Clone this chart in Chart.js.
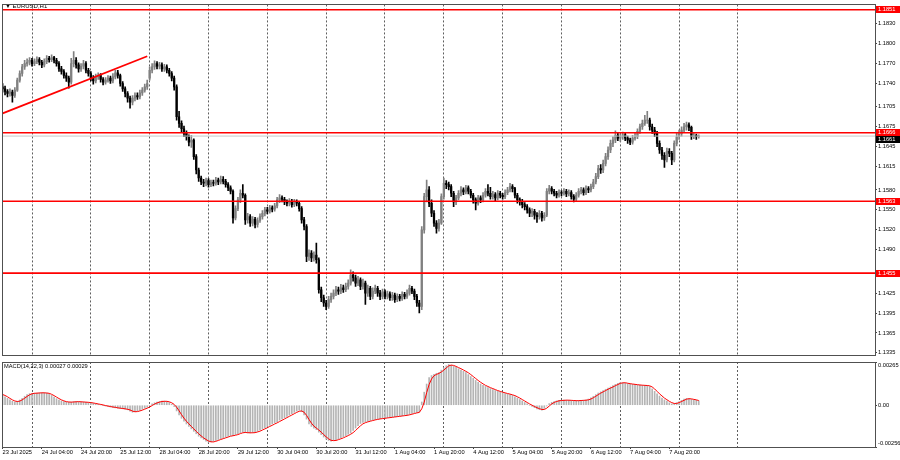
<!DOCTYPE html>
<html>
<head>
<meta charset="utf-8">
<script src="https://cdn.jsdelivr.net/npm/chart.js@4.4.1/dist/chart.umd.min.js"></script>
<style>
  html, body { margin: 0; padding: 0; background: #fff; }
  #wrap { position: relative; width: 900px; height: 460px; overflow: hidden; }
  canvas { position: absolute; left: 0; }
  #price { top: 0; }
  #macd { top: 356px; }
</style>
</head>
<body>
<div id="wrap">
  <canvas id="price" width="900" height="360"></canvas>
  <canvas id="macd" width="900" height="104"></canvas>
</div>
<script>
// EURUSD H1, one entry per hourly bar, 23 Jul 12:00 .. 8 Aug 08:00
const opens = [
  1.1735,1.1732,1.1728,1.1725,1.1727,1.1722,1.1730,1.1745,1.1755,1.1765,
  1.1770,1.1772,1.1775,1.1770,1.1773,1.1776,1.1772,1.1768,1.1773,1.1778,
  1.1776,1.1779,1.1775,1.1770,1.1762,1.1758,1.1752,1.1748,1.1742,1.1770,
  1.1775,1.1768,1.1762,1.1766,1.1770,1.1760,1.1755,1.1748,1.1744,1.1750,
  1.1752,1.1746,1.1742,1.1745,1.1748,1.1744,1.1750,1.1756,1.1752,1.1740,
  1.1732,1.1725,1.1718,1.1712,1.1718,1.1722,1.1720,1.1726,1.1730,1.1735,
  1.1748,1.1760,1.1765,1.1770,1.1766,1.1768,1.1762,1.1765,1.1760,1.1755,
  1.1748,1.1735,1.1690,1.1680,1.1672,1.1665,1.1660,1.1652,1.1655,1.1630,
  1.1610,1.1598,1.1592,1.1590,1.1594,1.1588,1.1591,1.1590,1.1595,1.1592,
  1.1596,1.1593,1.1588,1.1583,1.1578,1.1538,1.1552,1.1565,1.1575,1.1572,
  1.1535,1.1540,1.1530,1.1536,1.1528,1.1534,1.1540,1.1545,1.1550,1.1548,
  1.1553,1.1551,1.1556,1.1565,1.1568,1.1566,1.1562,1.1560,1.1563,1.1558,
  1.1562,1.1560,1.1552,1.1535,1.1525,1.1480,1.1485,1.1478,1.1482,1.1475,
  1.1430,1.1418,1.1410,1.1405,1.1415,1.1420,1.1425,1.1430,1.1428,1.1433,
  1.1430,1.1435,1.1440,1.1452,1.1448,1.1440,1.1445,1.1435,1.1440,1.1425,
  1.1432,1.1420,1.1428,1.1432,1.1425,1.1420,1.1427,1.1420,1.1424,1.1418,
  1.1422,1.1415,1.1420,1.1417,1.1423,1.1420,1.1425,1.1432,1.1428,1.1420,
  1.1410,1.1405,1.1520,1.1570,1.1580,1.1560,1.1545,1.1530,1.1522,1.1530,
  1.1570,1.1590,1.1588,1.1585,1.1575,1.1562,1.1568,1.1575,1.1580,1.1577,
  1.1583,1.1578,1.1572,1.1565,1.1560,1.1568,1.1565,1.1572,1.1578,1.1575,
  1.1570,1.1573,1.1568,1.1575,1.1572,1.1570,1.1576,1.1580,1.1585,1.1582,
  1.1572,1.1565,1.1562,1.1558,1.1555,1.1550,1.1545,1.1548,1.1542,1.1540,
  1.1545,1.1538,1.1542,1.1578,1.1582,1.1578,1.1575,1.1572,1.1576,1.1575,
  1.1578,1.1574,1.1576,1.1570,1.1566,1.1572,1.1578,1.1580,1.1576,1.1582,
  1.1580,1.1585,1.1592,1.1600,1.1612,1.1610,1.1620,1.1630,1.1640,1.1650,
  1.1655,1.1662,1.1658,1.1660,1.1663,1.1658,1.1655,1.1652,1.1658,1.1660,
  1.1668,1.1675,1.1680,1.1685,1.1685,1.1675,1.1670,1.1665,1.1650,1.1640,
  1.1632,1.1625,1.1638,1.1635,1.1625,1.1650,1.1660,1.1665,1.1670,1.1675,
  1.1678,1.1674,1.1660,1.1662,1.1660
];
const highs = [
  1.1740,1.1736,1.1731,1.1732,1.1730,1.1734,1.1748,1.1759,1.1769,1.1775,
  1.1777,1.1779,1.1778,1.1777,1.1780,1.1779,1.1775,1.1777,1.1782,1.1781,
  1.1783,1.1781,1.1778,1.1773,1.1766,1.1761,1.1756,1.1751,1.1778,1.1788,
  1.1779,1.1771,1.1770,1.1775,1.1773,1.1763,1.1758,1.1752,1.1754,1.1756,
  1.1755,1.1749,1.1749,1.1752,1.1751,1.1755,1.1760,1.1760,1.1754,1.1743,
  1.1735,1.1728,1.1721,1.1722,1.1726,1.1726,1.1730,1.1734,1.1739,1.1745,
  1.1765,1.1770,1.1774,1.1773,1.1772,1.1771,1.1769,1.1768,1.1763,1.1758,
  1.1751,1.1738,1.1698,1.1684,1.1676,1.1669,1.1663,1.1662,1.1657,1.1633,
  1.1613,1.1601,1.1596,1.1598,1.1597,1.1595,1.1595,1.1599,1.1598,1.1601,
  1.1600,1.1596,1.1591,1.1586,1.1580,1.1556,1.1569,1.1580,1.1588,1.1574,
  1.1545,1.1543,1.1540,1.1539,1.1538,1.1544,1.1549,1.1554,1.1554,1.1557,
  1.1556,1.1560,1.1569,1.1573,1.1571,1.1569,1.1565,1.1567,1.1566,1.1566,
  1.1565,1.1563,1.1555,1.1539,1.1528,1.1490,1.1489,1.1487,1.1500,1.1478,
  1.1434,1.1422,1.1414,1.1420,1.1425,1.1430,1.1435,1.1434,1.1438,1.1437,
  1.1440,1.1445,1.1460,1.1457,1.1452,1.1450,1.1448,1.1446,1.1443,1.1437,
  1.1435,1.1433,1.1437,1.1435,1.1429,1.1431,1.1430,1.1428,1.1427,1.1426,
  1.1425,1.1424,1.1423,1.1427,1.1426,1.1430,1.1437,1.1435,1.1431,1.1423,
  1.1414,1.1525,1.1575,1.1595,1.1585,1.1565,1.1549,1.1534,1.1536,1.1574,
  1.1598,1.1594,1.1592,1.1588,1.1578,1.1572,1.1579,1.1585,1.1583,1.1587,
  1.1586,1.1581,1.1575,1.1568,1.1572,1.1571,1.1576,1.1582,1.1588,1.1584,
  1.1578,1.1576,1.1579,1.1578,1.1575,1.1580,1.1584,1.1590,1.1588,1.1584,
  1.1575,1.1568,1.1566,1.1561,1.1558,1.1553,1.1552,1.1551,1.1546,1.1549,
  1.1548,1.1546,1.1582,1.1587,1.1585,1.1581,1.1578,1.1580,1.1579,1.1582,
  1.1581,1.1580,1.1579,1.1573,1.1576,1.1582,1.1584,1.1583,1.1586,1.1585,
  1.1589,1.1596,1.1605,1.1617,1.1618,1.1625,1.1635,1.1645,1.1655,1.1660,
  1.1669,1.1665,1.1664,1.1667,1.1666,1.1661,1.1658,1.1662,1.1665,1.1672,
  1.1679,1.1685,1.1692,1.1698,1.1688,1.1679,1.1674,1.1668,1.1654,1.1644,
  1.1636,1.1643,1.1642,1.1638,1.1654,1.1665,1.1670,1.1675,1.1680,1.1682,
  1.1681,1.1676,1.1665,1.1664,1.1663
];
const lows = [
  1.1727,1.1723,1.1720,1.1721,1.1712,1.1719,1.1728,1.1742,1.1751,1.1761,
  1.1766,1.1768,1.1766,1.1767,1.1770,1.1768,1.1764,1.1765,1.1770,1.1772,
  1.1773,1.1771,1.1766,1.1758,1.1754,1.1748,1.1743,1.1733,1.1739,1.1765,
  1.1763,1.1757,1.1758,1.1762,1.1756,1.1751,1.1744,1.1739,1.1741,1.1746,
  1.1742,1.1738,1.1739,1.1742,1.1740,1.1741,1.1747,1.1748,1.1736,1.1728,
  1.1720,1.1712,1.1703,1.1708,1.1714,1.1716,1.1717,1.1722,1.1727,1.1731,
  1.1745,1.1756,1.1761,1.1762,1.1762,1.1758,1.1758,1.1756,1.1751,1.1744,
  1.1730,1.1685,1.1674,1.1666,1.1660,1.1655,1.1646,1.1644,1.1626,1.1604,
  1.1593,1.1588,1.1585,1.1586,1.1584,1.1585,1.1586,1.1587,1.1588,1.1589,
  1.1589,1.1584,1.1579,1.1574,1.1530,1.1535,1.1549,1.1561,1.1568,1.1528,
  1.1530,1.1525,1.1526,1.1523,1.1524,1.1531,1.1536,1.1541,1.1544,1.1545,
  1.1547,1.1548,1.1553,1.1561,1.1562,1.1558,1.1556,1.1556,1.1554,1.1555,
  1.1556,1.1548,1.1530,1.1520,1.1472,1.1474,1.1472,1.1473,1.1470,1.1425,
  1.1412,1.1405,1.1400,1.1402,1.1411,1.1416,1.1421,1.1423,1.1424,1.1426,
  1.1427,1.1431,1.1437,1.1443,1.1435,1.1436,1.1430,1.1431,1.1408,1.1420,
  1.1415,1.1416,1.1424,1.1420,1.1415,1.1416,1.1416,1.1416,1.1414,1.1414,
  1.1411,1.1412,1.1413,1.1414,1.1416,1.1417,1.1422,1.1424,1.1415,1.1405,
  1.1395,1.1400,1.1515,1.1562,1.1555,1.1540,1.1525,1.1515,1.1518,1.1528,
  1.1566,1.1582,1.1580,1.1570,1.1555,1.1558,1.1565,1.1571,1.1573,1.1574,
  1.1574,1.1568,1.1560,1.1550,1.1557,1.1561,1.1562,1.1569,1.1571,1.1566,
  1.1566,1.1564,1.1565,1.1568,1.1566,1.1567,1.1573,1.1577,1.1577,1.1568,
  1.1560,1.1557,1.1553,1.1550,1.1545,1.1540,1.1540,1.1536,1.1531,1.1536,
  1.1533,1.1534,1.1540,1.1574,1.1574,1.1571,1.1568,1.1569,1.1571,1.1572,
  1.1570,1.1571,1.1566,1.1562,1.1563,1.1569,1.1574,1.1572,1.1573,1.1576,
  1.1577,1.1582,1.1589,1.1597,1.1605,1.1606,1.1616,1.1626,1.1636,1.1645,
  1.1651,1.1654,1.1653,1.1656,1.1654,1.1650,1.1648,1.1649,1.1655,1.1657,
  1.1665,1.1671,1.1677,1.1680,1.1670,1.1665,1.1660,1.1645,1.1635,1.1626,
  1.1614,1.1622,1.1630,1.1618,1.1622,1.1646,1.1656,1.1661,1.1666,1.1670,
  1.1669,1.1656,1.1657,1.1656,1.1658
];
const closes = [
  1.1732,1.1728,1.1725,1.1727,1.1722,1.1730,1.1745,1.1755,1.1765,1.1770,
  1.1772,1.1775,1.1770,1.1773,1.1776,1.1772,1.1768,1.1773,1.1778,1.1776,
  1.1779,1.1775,1.1770,1.1762,1.1758,1.1752,1.1748,1.1742,1.1770,1.1775,
  1.1768,1.1762,1.1766,1.1770,1.1760,1.1755,1.1748,1.1744,1.1750,1.1752,
  1.1746,1.1742,1.1745,1.1748,1.1744,1.1750,1.1756,1.1752,1.1740,1.1732,
  1.1725,1.1718,1.1712,1.1718,1.1722,1.1720,1.1726,1.1730,1.1735,1.1740,
  1.1760,1.1765,1.1770,1.1766,1.1768,1.1762,1.1765,1.1760,1.1755,1.1748,
  1.1735,1.1690,1.1680,1.1672,1.1665,1.1660,1.1652,1.1655,1.1630,1.1610,
  1.1598,1.1592,1.1590,1.1594,1.1588,1.1591,1.1590,1.1595,1.1592,1.1596,
  1.1593,1.1588,1.1583,1.1578,1.1538,1.1552,1.1565,1.1575,1.1572,1.1535,
  1.1540,1.1530,1.1536,1.1528,1.1534,1.1540,1.1545,1.1550,1.1548,1.1553,
  1.1551,1.1556,1.1565,1.1568,1.1566,1.1562,1.1560,1.1563,1.1558,1.1562,
  1.1560,1.1552,1.1535,1.1525,1.1480,1.1485,1.1478,1.1482,1.1475,1.1430,
  1.1418,1.1410,1.1405,1.1415,1.1420,1.1425,1.1430,1.1428,1.1433,1.1430,
  1.1435,1.1440,1.1452,1.1448,1.1440,1.1445,1.1435,1.1440,1.1425,1.1432,
  1.1420,1.1428,1.1432,1.1425,1.1420,1.1427,1.1420,1.1424,1.1418,1.1422,
  1.1415,1.1420,1.1417,1.1423,1.1420,1.1425,1.1432,1.1428,1.1420,1.1410,
  1.1405,1.1520,1.1570,1.1580,1.1560,1.1545,1.1530,1.1522,1.1530,1.1570,
  1.1590,1.1588,1.1585,1.1575,1.1562,1.1568,1.1575,1.1580,1.1577,1.1583,
  1.1578,1.1572,1.1565,1.1560,1.1568,1.1565,1.1572,1.1578,1.1575,1.1570,
  1.1573,1.1568,1.1575,1.1572,1.1570,1.1576,1.1580,1.1585,1.1582,1.1572,
  1.1565,1.1562,1.1558,1.1555,1.1550,1.1545,1.1548,1.1542,1.1540,1.1545,
  1.1538,1.1542,1.1578,1.1582,1.1578,1.1575,1.1572,1.1576,1.1575,1.1578,
  1.1574,1.1576,1.1570,1.1566,1.1572,1.1578,1.1580,1.1576,1.1582,1.1580,
  1.1585,1.1592,1.1600,1.1612,1.1610,1.1620,1.1630,1.1640,1.1650,1.1655,
  1.1662,1.1658,1.1660,1.1663,1.1658,1.1655,1.1652,1.1658,1.1660,1.1668,
  1.1675,1.1680,1.1685,1.1685,1.1675,1.1670,1.1665,1.1650,1.1640,1.1632,
  1.1625,1.1638,1.1635,1.1625,1.1650,1.1660,1.1665,1.1670,1.1675,1.1678,
  1.1674,1.1660,1.1662,1.1660,1.1661
];

// MACD(14,22,3): main line (histogram) and signal (red line)
const macdMain = [
  0.00061,0.00052,0.00042,0.00033,0.00024,0.00020,0.00024,0.00032,0.00042,0.00055,
  0.00066,0.00071,0.00073,0.00074,0.00075,0.00076,0.00076,0.00076,0.00074,0.00068,
  0.00060,0.00050,0.00040,0.00032,0.00026,0.00022,0.00019,0.00018,0.00019,0.00022,
  0.00022,0.00021,0.00020,0.00020,0.00018,0.00016,0.00014,0.00011,0.00008,0.00005,
  0.00002,-0.00002,-0.00005,-0.00008,-0.00011,-0.00013,-0.00016,-0.00018,-0.00020,-0.00022,
  -0.00024,-0.00028,-0.00036,-0.00043,-0.00040,-0.00035,-0.00030,-0.00024,-0.00018,-0.00012,
  -0.00002,0.00008,0.00015,0.00020,0.00023,0.00025,0.00025,0.00022,0.00016,0.00006,
  -0.00008,-0.00035,-0.00060,-0.00080,-0.00098,-0.00115,-0.00130,-0.00145,-0.00160,-0.00175,
  -0.00190,-0.00200,-0.00210,-0.00220,-0.00227,-0.00225,-0.00222,-0.00216,-0.00210,-0.00205,
  -0.00200,-0.00195,-0.00190,-0.00186,-0.00185,-0.00180,-0.00174,-0.00168,-0.00165,-0.00168,
  -0.00170,-0.00170,-0.00168,-0.00165,-0.00160,-0.00152,-0.00145,-0.00138,-0.00130,-0.00123,
  -0.00115,-0.00108,-0.00100,-0.00092,-0.00084,-0.00076,-0.00068,-0.00060,-0.00052,-0.00044,
  -0.00036,-0.00030,-0.00040,-0.00060,-0.00085,-0.00115,-0.00130,-0.00140,-0.00150,-0.00165,
  -0.00180,-0.00195,-0.00208,-0.00216,-0.00220,-0.00216,-0.00211,-0.00206,-0.00200,-0.00193,
  -0.00186,-0.00178,-0.00170,-0.00155,-0.00140,-0.00125,-0.00112,-0.00106,-0.00102,-0.00098,
  -0.00094,-0.00090,-0.00087,-0.00084,-0.00082,-0.00080,-0.00078,-0.00076,-0.00074,-0.00072,
  -0.00070,-0.00068,-0.00066,-0.00064,-0.00062,-0.00060,-0.00056,-0.00050,-0.00046,-0.00044,
  -0.00042,0.00020,0.00080,0.00130,0.00170,0.00182,0.00190,0.00196,0.00200,0.00215,
  0.00230,0.00242,0.00250,0.00245,0.00238,0.00232,0.00224,0.00215,0.00208,0.00200,
  0.00188,0.00176,0.00165,0.00152,0.00140,0.00130,0.00122,0.00115,0.00108,0.00102,
  0.00096,0.00090,0.00085,0.00080,0.00076,0.00072,0.00068,0.00064,0.00060,0.00052,
  0.00044,0.00035,0.00026,0.00017,0.00008,0.00000,-0.00008,-0.00015,-0.00022,-0.00027,
  -0.00030,-0.00020,-0.00005,0.00010,0.00018,0.00023,0.00027,0.00030,0.00030,0.00031,
  0.00031,0.00030,0.00029,0.00028,0.00028,0.00029,0.00030,0.00030,0.00032,0.00038,
  0.00045,0.00055,0.00065,0.00075,0.00082,0.00090,0.00098,0.00105,0.00112,0.00120,
  0.00128,0.00134,0.00140,0.00138,0.00135,0.00132,0.00130,0.00128,0.00126,0.00124,
  0.00123,0.00122,0.00122,0.00120,0.00115,0.00100,0.00085,0.00070,0.00056,0.00044,
  0.00033,0.00025,0.00015,0.00008,0.00010,0.00016,0.00022,0.00030,0.00038,0.00042,
  0.00040,0.00036,0.00032,0.00030,0.00027
];
const macdSignal = [
  0.00066,0.00060,0.00052,0.00042,0.00033,0.00026,0.00023,0.00025,0.00033,0.00043,
  0.00054,0.00064,0.00070,0.00073,0.00074,0.00075,0.00076,0.00076,0.00075,0.00073,
  0.00067,0.00059,0.00050,0.00041,0.00033,0.00027,0.00022,0.00020,0.00019,0.00020,
  0.00021,0.00022,0.00021,0.00020,0.00019,0.00018,0.00016,0.00014,0.00011,0.00008,
  0.00005,0.00002,-0.00002,-0.00005,-0.00008,-0.00011,-0.00013,-0.00016,-0.00018,-0.00020,
  -0.00022,-0.00025,-0.00029,-0.00036,-0.00040,-0.00039,-0.00035,-0.00030,-0.00024,-0.00018,
  -0.00011,-0.00002,0.00007,0.00014,0.00019,0.00023,0.00024,0.00024,0.00021,0.00015,
  0.00005,-0.00012,-0.00034,-0.00058,-0.00079,-0.00098,-0.00114,-0.00130,-0.00145,-0.00160,
  -0.00175,-0.00188,-0.00200,-0.00210,-0.00219,-0.00224,-0.00225,-0.00221,-0.00216,-0.00210,
  -0.00205,-0.00200,-0.00195,-0.00190,-0.00187,-0.00184,-0.00180,-0.00174,-0.00169,-0.00167,
  -0.00168,-0.00169,-0.00169,-0.00168,-0.00164,-0.00159,-0.00152,-0.00145,-0.00138,-0.00130,
  -0.00123,-0.00115,-0.00108,-0.00100,-0.00092,-0.00084,-0.00076,-0.00068,-0.00060,-0.00052,
  -0.00044,-0.00037,-0.00035,-0.00043,-0.00062,-0.00087,-0.00110,-0.00128,-0.00140,-0.00152,
  -0.00165,-0.00180,-0.00194,-0.00206,-0.00215,-0.00217,-0.00216,-0.00211,-0.00206,-0.00200,
  -0.00193,-0.00186,-0.00178,-0.00168,-0.00155,-0.00140,-0.00126,-0.00114,-0.00107,-0.00102,
  -0.00098,-0.00094,-0.00090,-0.00087,-0.00084,-0.00082,-0.00080,-0.00078,-0.00076,-0.00074,
  -0.00072,-0.00070,-0.00068,-0.00066,-0.00064,-0.00062,-0.00059,-0.00055,-0.00051,-0.00047,
  -0.00044,-0.00022,0.00019,0.00077,0.00127,0.00161,0.00181,0.00189,0.00195,0.00204,
  0.00215,0.00229,0.00241,0.00246,0.00244,0.00238,0.00231,0.00224,0.00216,0.00208,
  0.00199,0.00188,0.00176,0.00164,0.00152,0.00141,0.00131,0.00122,0.00115,0.00108,
  0.00102,0.00096,0.00090,0.00085,0.00080,0.00076,0.00072,0.00068,0.00064,0.00059,
  0.00052,0.00044,0.00035,0.00026,0.00017,0.00008,0.00000,-0.00008,-0.00015,-0.00021,
  -0.00026,-0.00026,-0.00018,-0.00005,0.00008,0.00017,0.00023,0.00027,0.00029,0.00030,
  0.00031,0.00031,0.00030,0.00029,0.00028,0.00028,0.00029,0.00030,0.00031,0.00033,
  0.00038,0.00046,0.00055,0.00065,0.00074,0.00082,0.00090,0.00098,0.00105,0.00112,
  0.00120,0.00127,0.00134,0.00137,0.00138,0.00135,0.00132,0.00130,0.00128,0.00126,
  0.00124,0.00123,0.00122,0.00121,0.00119,0.00112,0.00100,0.00085,0.00070,0.00057,
  0.00044,0.00034,0.00024,0.00016,0.00011,0.00011,0.00016,0.00023,0.00030,0.00037,
  0.00040,0.00039,0.00036,0.00033,0.00029
];

const symbolTitle = '\u25BC EURUSD,H1';
const macdTitle = 'MACD(14,22,3) 0.00027 0.00029';
const timeLabels = ['23 Jul 2025', '24 Jul 04:00', '24 Jul 20:00', '25 Jul 12:00', '28 Jul 04:00',
  '28 Jul 20:00', '29 Jul 12:00', '30 Jul 04:00', '30 Jul 20:00', '31 Jul 12:00', '1 Aug 04:00',
  '1 Aug 20:00', '4 Aug 12:00', '5 Aug 04:00', '5 Aug 20:00', '6 Aug 12:00', '7 Aug 04:00', '7 Aug 20:00'];
const labelBars = [0, 16, 32, 48, 64, 80, 96, 112, 128, 144, 160, 176, 192, 208, 224, 240, 256, 272];
const dayStartBars = [12, 36, 60, 84, 108, 132, 156, 180, 204, 228, 252, 276, 300];
const priceTicks = [1.1830, 1.1800, 1.1770, 1.1740, 1.1705, 1.1675, 1.1645, 1.1615, 1.1580,
  1.1550, 1.1520, 1.1490, 1.1425, 1.1395, 1.1365, 1.1335];
const levels = [1.1851, 1.1666, 1.1563, 1.1455];
const bidPrice = 1.1661;
const trendBars = [0, 59];
const trendPrices = [1.1695, 1.1781];
const macdTicks = [0.00265, 0, -0.00256];
const macdTickLabels = ['0.00265', '0.00', '-0.00256'];

const barMin = -0.24, barMax = 355.9;
const priceMin = 1.13310, priceMax = 1.18589;

const FONT = '"Liberation Sans", Arial, sans-serif';
Chart.defaults.font.family = FONT;
Chart.defaults.font.size = 5.7;
Chart.defaults.color = '#000';

const bull = '#808080', bear = '#000000';
const candleColor = c => (closes[c.dataIndex] >= opens[c.dataIndex] ? bull : bear);
const idx = closes.map((c, i) => i);

const framePlugin = {
  id: 'frame',
  afterDraw(chart) {
    const { ctx, chartArea: a } = chart;
    ctx.save();
    ctx.strokeStyle = '#505050';
    ctx.lineWidth = 1;
    ctx.strokeRect(Math.round(a.left) + 0.5, Math.round(a.top) + 0.5,
      Math.round(a.right - a.left), Math.round(a.bottom - a.top));
    ctx.restore();
  }
};

const titlePlugin = {
  id: 'symtitle',
  beforeDatasetsDraw(chart) {
    const ctx = chart.ctx;
    ctx.save();
    ctx.font = '6px ' + FONT;
    ctx.fillStyle = '#000';
    ctx.textBaseline = 'middle';
    ctx.fillText(symbolTitle, 5, 6);
    ctx.restore();
  }
};

const tagPlugin = {
  id: 'tags',
  afterDraw(chart) {
    const { ctx, scales: { y } } = chart;
    const x0 = Math.round(chart.chartArea.right) + 1;
    ctx.save();
    ctx.font = '5.7px ' + FONT;
    ctx.textBaseline = 'middle';
    const tag = (price, yy, bg) => {
      ctx.fillStyle = bg;
      ctx.fillRect(x0, Math.round(yy - 3.5), 24, 7);
      ctx.fillStyle = '#fff';
      ctx.fillText(price.toFixed(4), x0 + 2, yy);
    };
    let yBid = y.getPixelForValue(bidPrice);
    levels.forEach(l => {
      const yl = y.getPixelForValue(l);
      if (Math.abs(yl - yBid) < 7) yBid = yl + 7;
    });
    tag(bidPrice, yBid, '#000');
    levels.forEach(l => tag(l, y.getPixelForValue(l), '#ff0000'));
    ctx.restore();
  }
};

const levelSets = levels.map(l => ({
  type: 'line',
  data: [{ x: barMin, y: l }, { x: barMax, y: l }],
  borderColor: '#ff0000', borderWidth: 1.6, pointRadius: 0, order: 0
}));

new Chart(document.getElementById('price'), {
  type: 'line',
  data: {
    datasets: [
      ...levelSets,
      {
        type: 'line',
        data: [{ x: barMin, y: bidPrice }, { x: barMax, y: bidPrice }],
        borderColor: '#c8c8c8', borderWidth: 1, pointRadius: 0, order: 1
      },
      {
        type: 'line',
        data: trendBars.map((b, k) => ({ x: b, y: trendPrices[k] })),
        borderColor: '#ff0000', borderWidth: 1.8, pointRadius: 0, order: 0
      },
      {
        type: 'bar',
        data: idx.map(i => ({ x: i, y: [opens[i], closes[i]] })),
        backgroundColor: candleColor, barThickness: 1.6, grouped: false, order: 2
      },
      {
        type: 'bar',
        data: idx.map(i => ({ x: i, y: [lows[i], highs[i]] })),
        backgroundColor: candleColor, barThickness: 1, grouped: false, order: 3
      }
    ]
  },
  options: {
    responsive: false, animation: false, devicePixelRatio: 1, events: [],
    layout: { padding: { left: 2, top: 2, right: 0, bottom: 0 } },
    plugins: { legend: { display: false }, tooltip: { enabled: false } },
    scales: {
      x: {
        type: 'linear', min: barMin, max: barMax, bounds: 'data', offset: false,
        afterBuildTicks: s => { s.ticks = dayStartBars.map(v => ({ value: v })); },
        afterFit: s => { s.height = 2; },
        ticks: { display: false },
        grid: { offset: false, color: '#5e5e5e', drawTicks: false },
        border: { display: false, dash: [2, 2] }
      },
      y: {
        type: 'linear', position: 'right', min: priceMin, max: priceMax, bounds: 'data',
        beginAtZero: false,
        afterBuildTicks: s => { s.ticks = priceTicks.map(v => ({ value: v })); },
        afterFit: s => { s.width = 25; },
        ticks: { autoSkip: false, padding: 1, callback: v => v.toFixed(4) },
        grid: { drawOnChartArea: false, drawTicks: true, tickLength: 2, color: '#444' },
        border: { display: false }
      }
    }
  },
  plugins: [titlePlugin, framePlugin, tagPlugin]
});

const macdTextPlugin = {
  id: 'macdtext',
  afterDraw(chart) {
    const { ctx, scales: { y } } = chart;
    const x0 = Math.round(chart.chartArea.right) + 3;
    ctx.save();
    ctx.font = '5.7px ' + FONT;
    ctx.fillStyle = '#000';
    ctx.textBaseline = 'middle';
    ctx.fillText(macdTitle, 4, chart.chartArea.top + 4);
    macdTicks.forEach((v, k) => {
      let yy = y.getPixelForValue(v);
      if (k === 0) yy += 3;
      if (k === macdTicks.length - 1) yy -= 4;
      ctx.fillText(macdTickLabels[k], x0, yy);
    });
    ctx.restore();
  }
};

new Chart(document.getElementById('macd'), {
  type: 'line',
  data: {
    datasets: [
      {
        type: 'line',
        data: idx.map(i => ({ x: i, y: macdSignal[i] })),
        borderColor: '#ff0000', borderWidth: 1, pointRadius: 0, order: 0
      },
      {
        type: 'bar',
        data: idx.map(i => ({ x: i, y: macdMain[i] })),
        backgroundColor: '#b4b4b4', barThickness: 1, grouped: false, order: 1
      }
    ]
  },
  options: {
    responsive: false, animation: false, devicePixelRatio: 1, events: [],
    layout: { padding: { left: 2, top: 6, right: 0, bottom: 0 } },
    plugins: { legend: { display: false }, tooltip: { enabled: false } },
    scales: {
      x: {
        type: 'linear', position: 'bottom', weight: 0, min: barMin, max: barMax, bounds: 'data', offset: false,
        afterBuildTicks: s => { s.ticks = dayStartBars.map(v => ({ value: v })); },
        afterFit: s => { s.height = 0; },
        ticks: { display: false },
        grid: { offset: false, color: '#5e5e5e', drawTicks: false },
        border: { display: false, dash: [2, 2] }
      },
      xt: {
        type: 'linear', axis: 'x', position: 'bottom', weight: 1, min: barMin, max: barMax, bounds: 'data', offset: false,
        afterBuildTicks: s => { s.ticks = labelBars.map(v => ({ value: v })); },
        afterFit: s => { s.height = 13; },
        ticks: { autoSkip: false, maxRotation: 0, minRotation: 0, align: 'start', padding: 0,
          callback: (v, i) => timeLabels[i] },
        grid: { drawOnChartArea: false, drawTicks: true, tickLength: 2, color: '#444', offset: false },
        border: { display: false }
      },
      y: {
        type: 'linear', position: 'right', min: macdTicks[2], max: macdTicks[0], bounds: 'data',
        beginAtZero: false,
        afterBuildTicks: s => { s.ticks = macdTicks.map(v => ({ value: v })); },
        afterFit: s => { s.width = 25; },
        ticks: { display: false },
        grid: { drawOnChartArea: false, drawTicks: true, tickLength: 2, color: '#444' },
        border: { display: false }
      }
    }
  },
  plugins: [framePlugin, macdTextPlugin]
});
</script>
</body>
</html>
